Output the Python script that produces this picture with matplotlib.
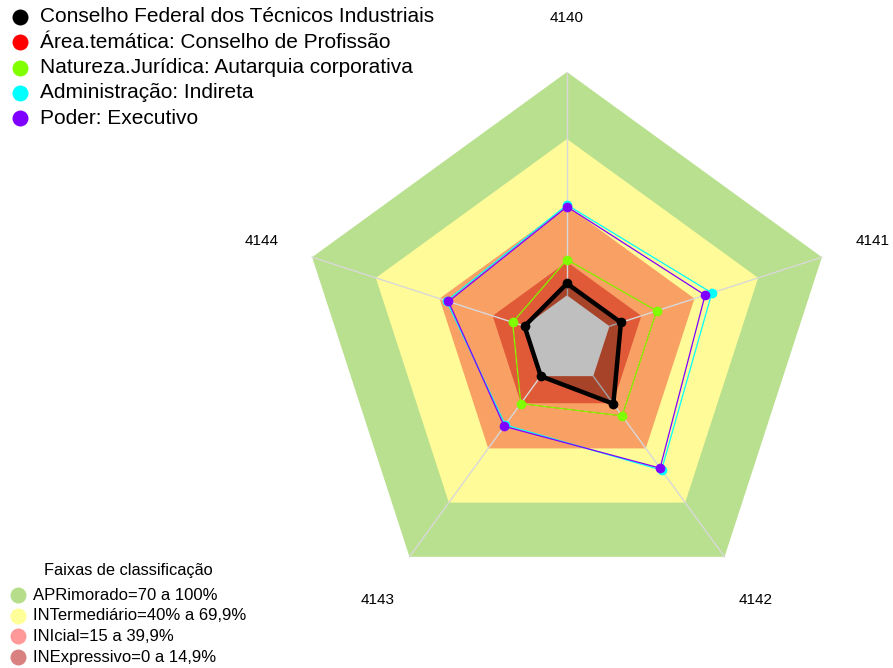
import numpy as np
import matplotlib
matplotlib.use("Agg")
import matplotlib.pyplot as plt
from matplotlib.patches import Polygon

plt.rcParams['font.family'] = ['Liberation Sans', 'DejaVu Sans']

# ---- data ----
axes_labels = ["4140", "4141", "4142", "4143", "4144"]
series_names = [
    "Conselho Federal dos Técnicos Industriais",
    "Área.temática: Conselho de Profissão",
    "Natureza.Jurídica: Autarquia corporativa",
    "Administração: Indireta",
    "Poder: Executivo",
]
series_colors = ["#000000", "#FF0000", "#80FF00", "#00FFFF", "#8000FF"]
conselho = [5.3, 5.4, 15.3, 0.0, 0.0]
area_tematica = [16.0, 22.2, 22.0, 15.2, 5.6]
natureza = [16.0, 22.2, 22.0, 15.2, 5.6]
administracao = [40.5, 48.2, 52.0, 27.0, 36.7]
poder = [39.7, 45.0, 50.9, 27.8, 35.8]
series_values = [conselho, area_tematica, natureza, administracao, poder]

band_names = ["APRimorado=70 a 100%", "INTermediário=40% a 69,9%",
              "INIcial=15 a 39,9%", "INExpressivo=0 a 14,9%"]
band_upper = [100, 70, 40, 15]
band_colors = ["#B9E08E", "#FFFB98", "#F9A064", "#E05A38"]
band_legend_colors = ["#B5DD8A", "#FFFF99", "#FF9999", "#D98080"]

# ---- geometry ----
W, H = 893, 668
cx, cy, R = 567, 340, 268
n = len(axes_labels)
angles = np.deg2rad(90 - 72 * np.arange(n))

def rad(v):
    return 1 / 6 + (5 / 6) * np.asarray(v, dtype=float) / 100

def xy(vals):
    r = rad(vals)
    return r * np.cos(angles), r * np.sin(angles)

fig = plt.figure(figsize=(W / 100, H / 100), dpi=100)
ax = fig.add_axes([0, 0, 1, 1])
ax.set_xlim(-cx / R, (W - cx) / R)
ax.set_ylim((cy - H) / R, cy / R)
ax.set_aspect('equal')
ax.axis('off')

# bands
for up, col in zip(band_upper, band_colors):
    x, y = xy([up] * n)
    ax.add_patch(Polygon(np.c_[x, y], closed=True, facecolor=col, edgecolor='none', zorder=1))
x, y = xy([0] * n)
ax.add_patch(Polygon(np.c_[x, y], closed=True, facecolor='white', edgecolor='none', zorder=1))

# spokes
r0, r1 = rad(0), rad(100)
for a in angles:
    ax.plot([r0 * np.cos(a), r1 * np.cos(a)], [r0 * np.sin(a), r1 * np.sin(a)],
            color='#D8D8D8', lw=1.0, zorder=2)

# black series fill
x, y = xy(conselho)
ax.add_patch(Polygon(np.c_[x, y], closed=True, facecolor=(0, 0, 0, 0.25), edgecolor='none', zorder=3))

# series lines & points
order = [1, 2, 3, 4, 0]
for i in order:
    vals = series_values[i]
    x, y = xy(vals)
    xc, yc = np.r_[x, x[0]], np.r_[y, y[0]]
    lw = {0: 3.2, 1: 0.5}.get(i, 0.9)
    ms = 6.5 if i == 1 else 7
    z = 6 if i == 0 else 4 + i * 0.1
    ax.plot(xc, yc, color=series_colors[i], lw=lw, zorder=z)
    ax.plot(x, y, 'o', color=series_colors[i], ms=ms, mec='none', zorder=z + 0.05)

# axis labels
for lab, a in zip(axes_labels, angles):
    ax.text(1.2 * np.cos(a), 1.2 * np.sin(a), lab, ha='center', va='center', fontsize=11, zorder=7)

# top legend
for k, (name, col) in enumerate(zip(series_names, series_colors)):
    ypix = 17 + 25.3 * k
    ax.plot([20 / W], [1 - ypix / H], 'o', color=col, ms=11.5, mec='none',
            transform=ax.transAxes, clip_on=False, zorder=8)
    ax.text(40 / W, 1 - ypix / H, name, transform=ax.transAxes, ha='left', va='center',
            fontsize=15, zorder=8)

# bottom legend
ax.text(128 / W, 1 - 570 / H, "Faixas de classificação", transform=ax.transAxes,
        ha='center', va='center', fontsize=11.8, zorder=8)
for k, (name, col) in enumerate(zip(band_names, band_legend_colors)):
    ypix = 595 + 20.7 * k
    ax.plot([18 / W], [1 - ypix / H], 'o', color=col, ms=11.5, mec='none',
            transform=ax.transAxes, clip_on=False, zorder=8)
    ax.text(33 / W, 1 - ypix / H, name, transform=ax.transAxes, ha='left', va='center',
            fontsize=12, zorder=8)

fig.savefig("out.png", dpi=100)
